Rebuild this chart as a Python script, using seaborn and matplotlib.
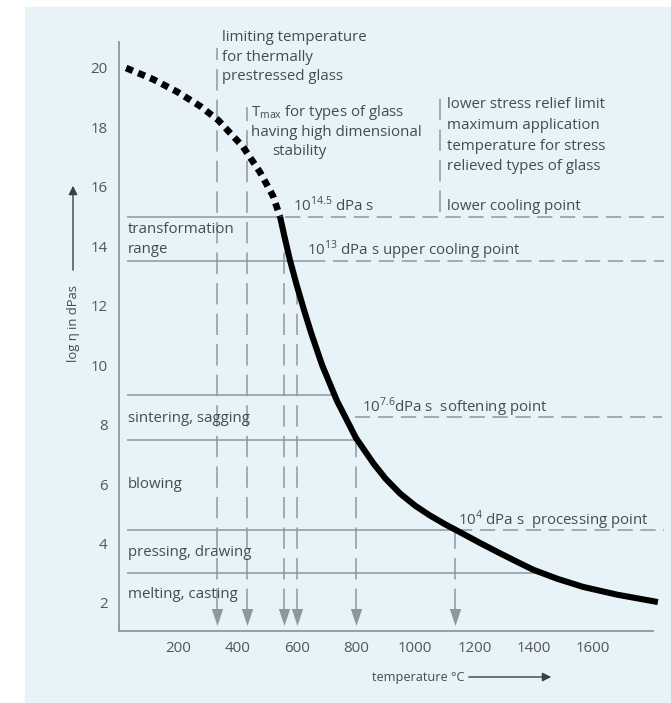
import numpy as np
import pandas as pd
import matplotlib
matplotlib.use("Agg")
import matplotlib.pyplot as plt
from matplotlib.patches import Rectangle
import seaborn as sns

# viscosity curve of a glass
dotted_temp = [25, 116, 197, 274, 335, 419, 476, 520, 544]
dotted_logeta = [20.0, 19.62, 19.2, 18.72, 18.25, 17.35, 16.5, 15.7, 15.0]
solid_temp = [544, 560, 577, 600, 625, 650, 686, 736, 800, 860, 900, 949, 1000,
              1050, 1100, 1151, 1220, 1286, 1340, 1397, 1480, 1566, 1680, 1818]
solid_logeta = [15.0, 14.28, 13.55, 12.7, 11.85, 11.05, 10.0, 8.8, 7.55, 6.68,
                6.18, 5.68, 5.27, 4.94, 4.65, 4.38, 4.01, 3.67, 3.4, 3.12, 2.81,
                2.54, 2.28, 2.03]

# horizontal range lines: level, end of solid part, start of dashed part
band_levels = [15.0, 13.5, 9.0, 7.5, 4.45, 3.0]
band_solid_end = [544, 645, 730, 800, 1140, 1420]
band_dash_start = [560, 645, None, None, 1140, None]
softening_level = 8.25

# characteristic temperatures with arrows, and where their lines begin
mark_temps = [331, 433, 557, 601, 800, 1134]
mark_tops = [20.67, 18.69, 14.1, 12.4, 7.5, 4.45]
relief_temp = 1083

range_labels = ["sintering, sagging", "blowing", "pressing, drawing", "melting, casting"]
range_label_y = [418, 485, 552, 595]

x_ticks = [200, 400, 600, 800, 1000, 1200, 1400, 1600, 1800]
x_ticklabels = ["200", "400", "600", "800", "1000", "1200", "1400", "1600", ""]
y_ticks = list(range(2, 21, 2))

W, H = 671, 703
sns.set_theme(style="white")
plt.rcParams["font.family"] = ["Open Sans", "DejaVu Sans"]
plt.rcParams["mathtext.fontset"] = "custom"
plt.rcParams["mathtext.rm"] = "Open Sans"

line_c = "#8e979d"
text_c = "#454b50"
tick_c = "#50565a"
bg_c = "#e7f2f9"
fs = 10.8


def tx(px):
    return (px - 118.7) / 0.2966


def ly(py):
    return 20 - (py - 68) / 29.72


fig = plt.figure(figsize=(W / 100, H / 100), dpi=100, facecolor="white")
fig.patches.append(Rectangle((25 / W, 0), 1, (H - 7) / H, transform=fig.transFigure,
                             color=bg_c, zorder=-10))
ax = fig.add_axes([118.7 / W, 72 / H, 547.2 / W, 589 / H])
ax.set_facecolor("none")
ax.set_xlim(0, 1845)
ax.set_ylim(ly(631), ly(42))

# range lines
for lvl, s_end, d_start in zip(band_levels, band_solid_end, band_dash_start):
    ax.hlines(lvl, 28, s_end, color=line_c, lw=1.1, zorder=1)
    if d_start is not None:
        ax.hlines(lvl, d_start, 1840, color=line_c, lw=1.1, linestyles=[(0, (10, 5))], zorder=1)
ax.hlines(softening_level, 797, 1832, color=line_c, lw=1.1, linestyles=[(0, (10, 5))], zorder=1)

# vertical dashed markers with arrow heads
head_base = ly(610)
for t, top in zip(mark_temps, mark_tops):
    ax.vlines(t, head_base, top, color=line_c, lw=1.1, linestyles=[(0, (14, 6))], zorder=1)
ax.vlines(relief_temp, ly(212), ly(95), color=line_c, lw=1.1, linestyles=[(0, (14, 6))], zorder=1)
arrows = pd.DataFrame({"temp": mark_temps, "y": [ly(617)] * len(mark_temps)})
sns.scatterplot(data=arrows, x="temp", y="y", ax=ax, marker=[(-1, 1.5), (1, 1.5), (0, -1.5)],
                s=150, color=line_c, edgecolor=line_c, linewidth=0, zorder=2, clip_on=False)

# viscosity curve
sns.lineplot(x=dotted_temp, y=dotted_logeta, ax=ax, color="black", lw=4.8,
             linestyle=(0, (1.1, 0.85)), dash_capstyle="butt", zorder=3)
sns.lineplot(x=solid_temp, y=solid_logeta, ax=ax, color="black", lw=4.4, zorder=3,
             solid_capstyle="butt", solid_joinstyle="round", clip_on=False)

# axes styling
for side in ["top", "right"]:
    ax.spines[side].set_visible(False)
for side in ["left", "bottom"]:
    ax.spines[side].set_color(line_c)
    ax.spines[side].set_linewidth(1.3)
ax.spines["bottom"].set_bounds(0, 1800)
ax.set_xticks(x_ticks)
ax.set_xticklabels(x_ticklabels)
ax.set_yticks(y_ticks)
ax.tick_params(axis="x", direction="in", length=6, width=1.1, color=line_c,
               labelsize=fs, labelcolor=tick_c, pad=7)
ax.tick_params(axis="y", direction="inout", length=10, width=1.1, color=line_c,
               labelsize=fs, labelcolor=tick_c, pad=3)
ax.set_xlabel("")
ax.set_ylabel("")


# annotations
def put(px, py, s, size=fs, **kw):
    ax.text(tx(px), ly(py), s, ha="left", va="center", fontsize=size, color=text_c,
            clip_on=False, **kw)


put(222, 38, "limiting temperature")
put(222, 57.5, "for thermally")
put(222, 77, "prestressed glass")
put(251, 113, r"T$_\mathregular{max}$ for types of glass")
put(251, 133, "having high dimensional")
put(272, 152, "stability")
put(447, 105, "lower stress relief limit")
put(447, 125.5, "maximum application")
put(447, 146, "temperature for stress")
put(447, 166.5, "relieved types of glass")
put(447, 207, "lower cooling point")
put(293, 205, r"10$^\mathregular{14.5}$ dPa s")
put(307, 250, r"10$^\mathregular{13}$ dPa s upper cooling point")
put(128, 230, "transformation")
put(128, 250, "range")
put(362, 407, r"10$^\mathregular{7.6}$dPa s  softening point")
put(458, 520, r"10$^\mathregular{4}$ dPa s  processing point")
for s, py in zip(range_labels, range_label_y):
    put(128, py, s)

# axis titles with arrows
fig.text(73 / W, (H - 323) / H, "log η in dPas", rotation=90, ha="center", va="center",
         fontsize=fs - 1.4, color=text_c)
ax.annotate("", xy=(73, H - 183), xytext=(73, H - 273), xycoords="figure pixels",
            textcoords="figure pixels",
            arrowprops=dict(arrowstyle="-|>", color="#3a3f43", lw=1.0, mutation_scale=13))
fig.text(418 / W, (H - 677) / H, "temperature °C", ha="center", va="center",
         fontsize=fs - 1.6, color=text_c)
ax.annotate("", xy=(554, H - 677), xytext=(466, H - 677), xycoords="figure pixels",
            textcoords="figure pixels",
            arrowprops=dict(arrowstyle="-|>", color="#3a3f43", lw=1.0, mutation_scale=13))

fig.savefig("out.png", dpi=100)
